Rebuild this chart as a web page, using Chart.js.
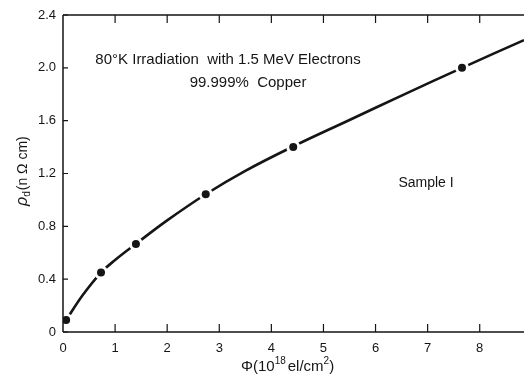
<!DOCTYPE html>
<html>
<head>
<meta charset="utf-8">
<script src="https://cdn.jsdelivr.net/npm/chart.js@4"></script>
<style>
html,body{margin:0;padding:0;background:#fff}
#wrap{width:531px;height:377px}
</style>
</head>
<body>
<div id="wrap"><canvas id="c"></canvas></div>
<script>
// measured points
const fluence=[0.06,0.73,1.40,2.74,4.42,7.66];
const resist=[0.09,0.45,0.667,1.043,1.40,2.00];
// drawn curve
const curveX=[0.06,0.38,0.73,1.0,1.4,2.0,2.74,3.5,4.42,5.5,6.5,7.66,8.85];
const curveY=[0.09,0.28,0.45,0.545,0.667,0.845,1.043,1.22,1.405,1.605,1.79,2.00,2.21];
const xTicks=[0,1,2,3,4,5,6,7,8];
const yTicks=[0,0.4,0.8,1.2,1.6,2.0,2.4];
const yLabels=['0','0.4','0.8','1.2','1.6','2.0','2.4'];

const ink='#151515';
const font='"Liberation Sans", Arial, sans-serif';

const pts=(xs,ys)=>xs.map((x,i)=>({x,y:ys[i]}));

// axes frame, inward ticks and free text
const frame={
  id:'frame',
  afterDraw(ch){
    const c=ch.ctx,a=ch.chartArea,xs=ch.scales.x,ys=ch.scales.y;
    c.save();
    c.strokeStyle=ink;c.lineWidth=1.5;
    c.beginPath();
    c.moveTo(a.left,a.top);c.lineTo(a.right,a.top);
    c.moveTo(a.left,a.top);c.lineTo(a.left,a.bottom);
    c.moveTo(a.left,a.bottom);c.lineTo(a.right,a.bottom);
    c.stroke();
    c.lineWidth=1.2;
    c.beginPath();
    xTicks.forEach(v=>{
      const p=xs.getPixelForValue(v);
      if(v>0){c.moveTo(p,a.bottom);c.lineTo(p,a.bottom-8);
      c.moveTo(p,a.top);c.lineTo(p,a.top+8);}
    });
    yTicks.forEach(v=>{
      const p=ys.getPixelForValue(v);
      c.moveTo(a.left,p);c.lineTo(a.left+5,p);
    });
    c.stroke();

    c.fillStyle=ink;
    c.textBaseline='middle';c.textAlign='center';
    c.font='15px '+font;
    c.fillText('80°K Irradiation  with 1.5 MeV Electrons',228,60);
    c.fillText('99.999%  Copper',248,83);
    c.font='14px '+font;
    c.fillText('Sample I',426,183);

    // x title
    c.font='15px '+font;
    c.textAlign='left';
    let x=241,y=367;
    c.fillText('Φ(10',x,y);x+=c.measureText('Φ(10').width;
    c.font='10px '+font;c.fillText('18',x,y-6);x+=c.measureText('18').width+2;
    c.font='15px '+font;c.fillText('el/cm',x,y);x+=c.measureText('el/cm').width;
    c.font='10px '+font;c.fillText('2',x,y-6);x+=c.measureText('2').width;
    c.font='15px '+font;c.fillText(')',x,y);

    // y title
    c.translate(23,206);c.rotate(-Math.PI/2);
    x=0;y=0;
    c.font='italic 16px '+font;c.fillText('ρ',x,y);x+=c.measureText('ρ').width;
    c.font='10px '+font;c.fillText('d',x,y+4);x+=c.measureText('d').width+1;
    c.font='14px '+font;c.fillText('(n Ω cm)',x,y);
    c.restore();
  }
};

new Chart(document.getElementById('c'),{
  type:'scatter',
  data:{datasets:[
    {type:'line',data:pts(curveX,curveY),borderColor:ink,borderWidth:2.6,pointRadius:0,
     tension:0.4,fill:false,order:3},
    {data:pts(fluence,resist),pointRadius:7,backgroundColor:'#fff',borderWidth:0,order:2},
    {data:pts(fluence,resist),pointRadius:4,backgroundColor:ink,borderWidth:0,order:1}
  ]},
  options:{
    responsive:true,maintainAspectRatio:false,animation:false,
    layout:{padding:{top:15,right:0,left:0,bottom:0}},
    plugins:{legend:{display:false},tooltip:{enabled:false}},
    scales:{
      x:{type:'linear',min:0,max:8.85,border:{display:false},grid:{display:false,drawTicks:false},
        afterBuildTicks(s){s.ticks=xTicks.map(v=>({value:v}));},
        afterFit(s){s.height=45;},
        ticks:{padding:9,color:ink,font:{family:font,size:13},callback:v=>String(v)}},
      y:{type:'linear',min:0,max:2.4,border:{display:false},grid:{display:false,drawTicks:false},
        afterBuildTicks(s){s.ticks=yTicks.map(v=>({value:v}));},
        afterFit(s){s.width=63;},
        ticks:{padding:7,color:ink,font:{family:font,size:13},
          callback:v=>yLabels[yTicks.findIndex(t=>Math.abs(t-v)<1e-6)]}}
    }
  },
  plugins:[frame]
});
</script>
</body>
</html>
